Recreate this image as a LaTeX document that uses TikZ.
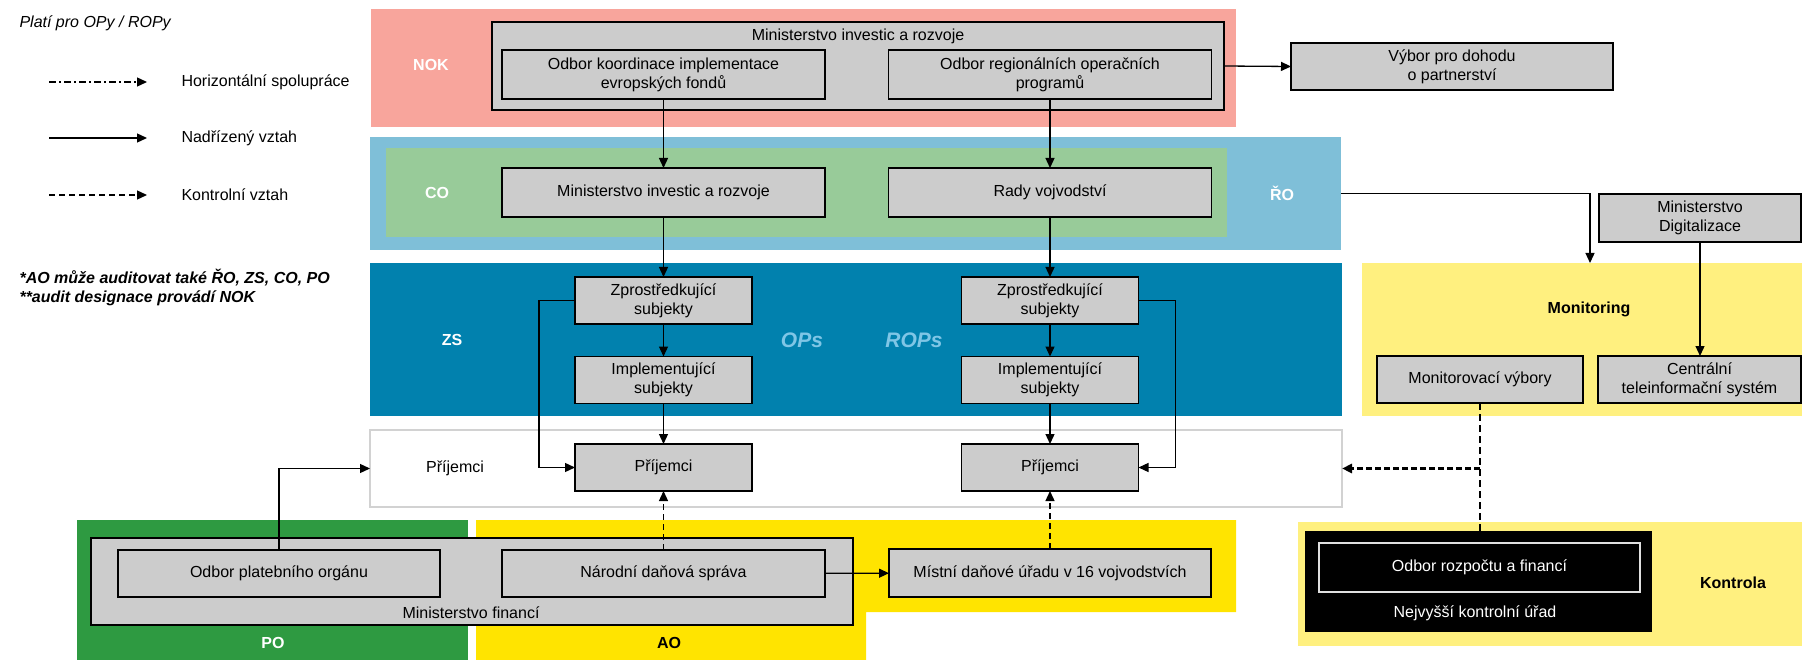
\documentclass[tikz,border=0pt]{standalone}
\usepackage{fontspec}
\setmainfont{Liberation Sans}
\usetikzlibrary{arrows.meta}
\definecolor{nokred}{HTML}{F8A59C}
\definecolor{rolight}{HTML}{7FBFD8}
\definecolor{cogreen}{HTML}{98CB99}
\definecolor{zsblue}{HTML}{0181AE}
\definecolor{pogreen}{HTML}{2E9A41}
\definecolor{aoyellow}{HTML}{FFE400}
\definecolor{monyellow}{HTML}{FFF07F}
\definecolor{boxgray}{HTML}{CCCCCC}
\definecolor{opsblue}{HTML}{7FC6E6}
\definecolor{prgray}{HTML}{D2D2D2}

\begin{document}
\begin{tikzpicture}[x=1pt, y=-1pt,
    box/.style={rectangle, draw, line width=1.6pt, fill=boxgray, align=center,
                font=\fontsize{16}{19}\selectfont, inner sep=0pt, outer sep=0pt},
    panel/.style={rectangle, inner sep=0pt, outer sep=0pt},
    tag/.style={font=\fontsize{16}{19}\selectfont\bfseries, text=white},
    txt/.style={font=\fontsize{16}{19}\selectfont},
    arr/.style={-{Triangle[length=10pt, width=9pt]}, line width=1.3pt},
    ctl/.style={arr, dash pattern=on 6pt off 4pt},
    coop/.style={arr, dash pattern=on 7pt off 3pt on 2pt off 3pt}
]
    \useasboundingbox (0,0) rectangle (1802,660);

    % background bands
    \node[panel, fill=nokred, minimum width=865pt, minimum height=118pt] (nokbg) at (803.5,68) {};
    \node[panel, fill=rolight, minimum width=971pt, minimum height=113pt] (robg) at (855.5,193.5) {};
    \node[panel, fill=cogreen, minimum width=841pt, minimum height=89pt] (cobg) at (806.5,192.5) {};
    \node[panel, fill=zsblue, minimum width=972pt, minimum height=153pt] (zsbg) at (856,339.5) {};
    \node[panel, draw=prgray, line width=1.5pt, fill=white, minimum width=972pt, minimum height=77pt] (prbg) at (856,468.5) {};
    \node[panel, fill=monyellow, minimum width=440pt, minimum height=153pt] (monbg) at (1582,339.5) {};
    \node[panel, fill=pogreen, minimum width=391pt, minimum height=140pt] (pobg) at (272.5,590) {};
    \fill[aoyellow] (476,520) -| (1236,612) -| (866,660) -| cycle;
    \node[panel, fill=monyellow, minimum width=504pt, minimum height=124pt] (kobg) at (1550,584) {};

    \node[tag] (nok) at (431,65) {NOK};
    \node[tag] (co) at (437,193) {CO};
    \node[tag] (ro) at (1282,193) {ŘO};
    \node[tag] (zs) at (452,340) {ZS};
    \node[tag] (po) at (273,643) {PO};
    \node[tag, text=black] (ao) at (669,643) {AO};
    \node[tag, text=black] (montag) at (1589,309) {Monitoring};
    \node[tag, text=black] (kontag) at (1733,583) {Kontrola};
    \node[txt] (prtag) at (455,468) {Příjemci};
    \node[font=\fontsize{21}{24}\selectfont\bfseries\itshape, text=opsblue] (ops) at (802,340) {OPs};
    \node[font=\fontsize{21}{24}\selectfont\bfseries\itshape, text=opsblue] (rops) at (914,340) {ROPs};

    % NOK
    \node[box, minimum width=732pt, minimum height=88pt] (mir) at (858,66) {};
    \node[txt] (mirtxt) at (858,36) {Ministerstvo investic a rozvoje};
    \node[box, minimum width=323pt, minimum height=49pt] (okief) at (663.5,74.5) {Odbor koordinace implementace\\evropských fondů};
    \node[box, minimum width=323pt, minimum height=49pt] (orop) at (1050,74.5) {Odbor regionálních operačních\\programů};
    \node[box, minimum width=322pt, minimum height=47pt] (vybor) at (1452,66.5) {Výbor pro dohodu\\o partnerství};

    % CO
    \node[box, minimum width=323pt, minimum height=49pt] (mirco) at (663.5,192.5) {Ministerstvo investic a rozvoje};
    \node[box, minimum width=323pt, minimum height=49pt] (rady) at (1050,192.5) {Rady vojvodství};

    % ZS + prijemci
    \node[box, minimum width=177pt, minimum height=47pt] (zsl) at (663.5,300.5) {Zprostředkující\\subjekty};
    \node[box, minimum width=177pt, minimum height=47pt] (impl) at (663.5,380) {Implementující\\subjekty};
    \node[box, minimum width=177pt, minimum height=47pt] (prl) at (663.5,467.5) {Příjemci};
    \node[box, minimum width=177pt, minimum height=47pt] (zsr) at (1050,300.5) {Zprostředkující\\subjekty};
    \node[box, minimum width=177pt, minimum height=47pt] (impr) at (1050,380) {Implementující\\subjekty};
    \node[box, minimum width=177pt, minimum height=47pt] (prr) at (1050,467.5) {Příjemci};

    % monitoring
    \node[box, minimum width=202pt, minimum height=48pt] (digit) at (1700,218) {Ministerstvo\\Digitalizace};
    \node[box, minimum width=206pt, minimum height=47pt] (monvyb) at (1480,379.5) {Monitorovací výbory};
    \node[box, minimum width=203pt, minimum height=47pt] (cts) at (1699.5,379.5) {Centrální\\teleinformační systém};

    % PO / AO
    \node[box, minimum width=762pt, minimum height=87pt] (mf) at (472,581.5) {};
    \node[txt] (mftxt) at (471,613) {Ministerstvo financí};
    \node[box, minimum width=322pt, minimum height=47pt] (opo) at (279,573.5) {Odbor platebního orgánu};
    \node[box, minimum width=323pt, minimum height=47pt] (nds) at (663.5,573.5) {Národní daňová správa};
    \node[box, minimum width=322pt, minimum height=48pt] (mdu) at (1050,573) {Místní daňové úřadu v 16 vojvodstvích};

    % kontrola
    \node[box, fill=black, minimum width=345pt, minimum height=99pt] (nku) at (1478.5,581.5) {};
    \node[txt, text=white] (nkutxt) at (1475,613) {Nejvyšší kontrolní úřad};
    \node[box, fill=black, draw=white!88!black, line width=1.5pt, text=white,
          minimum width=321pt, minimum height=49pt] (orf) at (1479.5,567.5) {Odbor rozpočtu a financí};

    % connectors
    \draw[arr] (mir.east) -- (vybor.west);
    \draw[arr] (okief) -- (mirco);
    \draw[arr] (orop) -- (rady);
    \draw[arr] (mirco) -- (zsl);
    \draw[arr] (rady) -- (zsr);
    \draw[arr] (zsl) -- (impl);
    \draw[arr] (impl) -- (prl);
    \draw[arr] (zsr) -- (impr);
    \draw[arr] (impr) -- (prr);
    \draw[arr] (zsl.west) -- ++(-36,0) |- (prl.west);
    \draw[arr] (zsr.east) -- ++(37,0) |- (prr.east);
    \coordinate (monin) at (1590,263);
    \draw[arr] (robg.east) -| (monin);
    \draw[arr] (digit.south) -- (digit.south |- cts.north);
    \draw[arr] (opo.north) |- (prbg.west);
    \draw[ctl] (nds) -- (prl);
    \draw[arr] (nds) -- (mdu);
    \draw[ctl] (mdu) -- (prr);
    \draw[line width=1.3pt, dash pattern=on 7pt off 4pt] (monvyb.south) -- (monvyb.south |- nku.north);
    \coordinate (kbranch) at (monvyb.south |- prbg.east);
    \draw[ctl, line width=2.6pt, dash pattern=on 6pt off 3pt] (kbranch) -- (prbg.east);

    % legend
    \node[txt, font=\fontsize{16}{19}\selectfont\itshape, anchor=west] (plati) at (16,23) {Platí pro OPy / ROPy};
    \coordinate (h0) at (49,82);  \coordinate (h1) at (147,82);
    \coordinate (n0) at (49,138); \coordinate (n1) at (147,138);
    \coordinate (k0) at (49,195); \coordinate (k1) at (147,195);
    \draw[coop] (h0) -- (h1);
    \draw[arr] (n0) -- (n1);
    \draw[ctl] (k0) -- (k1);
    \node[txt, anchor=west] (hlbl) at (178,82) {Horizontální spolupráce};
    \node[txt, anchor=west] (nlbl) at (178,138) {Nadřízený vztah};
    \node[txt, anchor=west] (klbl) at (178,195) {Kontrolní vztah};
    \node[font=\fontsize{16}{19}\selectfont\bfseries\itshape, anchor=west] (note1) at (16,278) {*AO může auditovat také ŘO, ZS, CO, PO};
    \node[font=\fontsize{16}{19}\selectfont\bfseries\itshape, anchor=west] (note2) at (16,298) {**audit designace provádí NOK};
\end{tikzpicture}
\end{document}
